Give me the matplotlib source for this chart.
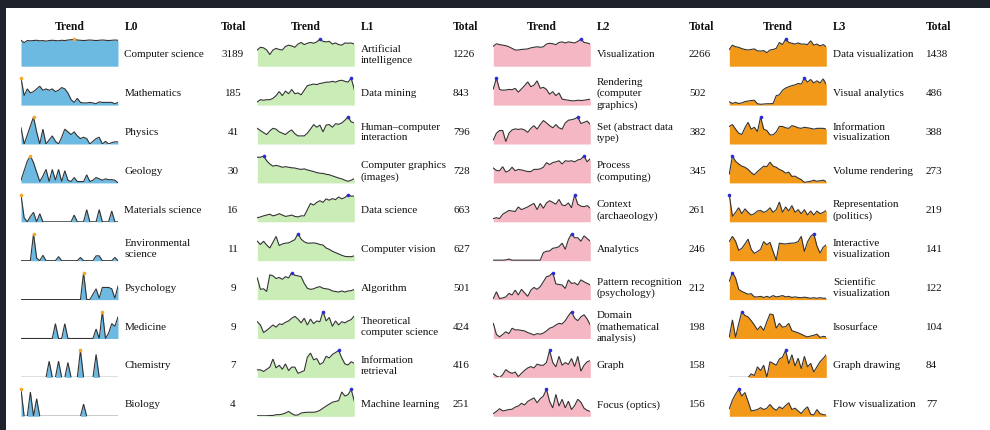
import matplotlib
matplotlib.use("Agg")
import matplotlib.pyplot as plt
import numpy as np
from matplotlib.patches import Rectangle

# ---- data: yearly paper counts per topic, as percent of the topic's peak year ----
L0_LABELS = ["Computer science", "Mathematics", "Physics", "Geology", "Materials science",
             "Environmental\nscience", "Psychology", "Medicine", "Chemistry", "Biology"]
L0_TOTALS = [3189, 185, 41, 30, 16, 11, 9, 9, 7, 4]
L0_TRENDS = [
    [96, 87, 95, 94, 95, 96, 94, 95, 93, 95, 96, 95, 94, 96, 95, 97, 98, 100, 97, 96, 95, 96, 97, 96, 95, 96, 97, 96, 95, 96, 97, 96],
    [100, 35, 60, 45, 50, 60, 70, 55, 60, 55, 60, 50, 55, 65, 60, 45, 20, 10, 25, 10, 8, 8, 10, 8, 5, 12, 10, 10, 10, 10, 5, 10],
    [60, 0, 33, 67, 100, 45, 0, 55, 0, 15, 30, 10, 0, 25, 55, 45, 35, 45, 30, 20, 25, 20, 0, 10, 20, 25, 0, 10, 0, 5, 8, 8],
    [10, 45, 80, 100, 75, 40, 5, 25, 50, 5, 50, 10, 50, 5, 45, 10, 5, 20, 5, 5, 5, 30, 5, 10, 20, 15, 10, 15, 12, 12, 10, 0],
    [100, 15, 0, 20, 35, 0, 30, 0, 0, 0, 0, 0, 0, 0, 0, 0, 0, 25, 0, 0, 0, 45, 0, 0, 0, 45, 0, 0, 0, 40, 0, 0],
    [0, 0, 0, 0, 100, 10, 0, 20, 0, 0, 0, 0, 15, 0, 0, 0, 0, 0, 0, 12, 0, 0, 0, 0, 18, 18, 0, 0, 0, 0, 12, 0],
    [0, 0, 0, 0, 0, 0, 0, 0, 0, 0, 0, 0, 0, 0, 0, 0, 0, 0, 0, 0, 100, 0, 0, 20, 40, 5, 45, 45, 45, 40, 5, 50],
    [0, 0, 0, 0, 0, 0, 0, 0, 0, 0, 0, 55, 0, 0, 55, 0, 0, 0, 0, 0, 0, 0, 0, 0, 35, 0, 100, 0, 20, 55, 45, 80],
    [0, 0, 0, 0, 0, 0, 0, 0, 0, 60, 0, 0, 60, 0, 0, 55, 0, 0, 0, 100, 0, 0, 0, 0, 85, 0, 0, 0, 0, 0, 0, 0],
    [100, 0, 0, 90, 0, 65, 0, 0, 0, 0, 0, 0, 0, 0, 0, 0, 0, 0, 0, 0, 45, 0, 0, 0, 0, 0, 0, 0, 0, 0, 0, 0],
]

L1_LABELS = ["Artificial\nintelligence", "Data mining", "Human\u2013computer\ninteraction",
             "Computer graphics\n(images)", "Data science", "Computer vision", "Algorithm",
             "Theoretical\ncomputer science", "Information\nretrieval", "Machine learning"]
L1_TOTALS = [1226, 843, 796, 728, 663, 627, 501, 424, 416, 251]
L1_TRENDS = [
    [60, 70, 68, 60, 43, 60, 66, 62, 60, 73, 78, 75, 70, 82, 88, 80, 85, 88, 85, 90, 100, 92, 90, 92, 82, 86, 80, 78, 86, 85, 86, 82],
    [12, 20, 18, 20, 20, 25, 35, 50, 35, 52, 42, 58, 42, 45, 38, 55, 72, 75, 78, 76, 80, 82, 85, 85, 88, 85, 90, 92, 88, 85, 100, 58],
    [58, 50, 42, 35, 48, 58, 55, 45, 40, 35, 45, 52, 38, 30, 30, 30, 40, 55, 72, 62, 70, 45, 70, 72, 62, 75, 73, 78, 88, 100, 82, 78],
    [95, 95, 100, 82, 70, 62, 65, 62, 58, 60, 58, 56, 55, 52, 50, 52, 48, 45, 42, 38, 36, 35, 32, 30, 26, 22, 18, 15, 10, 6, 10, 16],
    [15, 18, 22, 25, 28, 22, 25, 30, 25, 20, 22, 25, 20, 18, 22, 22, 45, 68, 62, 72, 78, 72, 85, 80, 86, 82, 92, 85, 90, 100, 95, 95],
    [72, 60, 72, 58, 47, 68, 90, 56, 62, 65, 66, 72, 78, 100, 80, 70, 65, 65, 66, 64, 60, 58, 47, 42, 35, 30, 25, 20, 16, 15, 15, 18],
    [80, 38, 40, 30, 92, 88, 78, 82, 75, 85, 80, 100, 90, 88, 85, 60, 42, 38, 40, 45, 48, 42, 40, 38, 32, 30, 28, 32, 28, 32, 33, 38],
    [62, 50, 22, 30, 40, 50, 42, 54, 52, 60, 65, 75, 82, 72, 58, 75, 50, 72, 55, 65, 62, 100, 65, 78, 45, 65, 50, 62, 58, 65, 70, 84],
    [28, 28, 22, 30, 38, 68, 35, 45, 30, 50, 25, 38, 38, 15, 20, 25, 75, 90, 65, 70, 48, 55, 78, 72, 85, 92, 100, 72, 50, 46, 58, 52],
    [2, 2, 2, 2, 3, 3, 6, 6, 8, 12, 18, 10, 4, 5, 12, 14, 15, 15, 15, 17, 22, 30, 38, 45, 52, 55, 58, 90, 75, 80, 100, 56],
]

L2_LABELS = ["Visualization", "Rendering\n(computer\ngraphics)", "Set (abstract data\ntype)",
             "Process\n(computing)", "Context\n(archaeology)", "Analytics",
             "Pattern recognition\n(psychology)", "Domain\n(mathematical\nanalysis)", "Graph",
             "Focus (optics)"]
L2_TOTALS = [2266, 502, 382, 345, 261, 246, 212, 198, 158, 156]
L2_TRENDS = [
    [74, 83, 80, 78, 76, 72, 66, 60, 60, 62, 63, 64, 68, 70, 72, 70, 72, 82, 85, 83, 80, 88, 90, 86, 90, 88, 86, 92, 100, 88, 86, 82],
    [60, 100, 58, 55, 56, 58, 57, 62, 48, 60, 72, 86, 68, 74, 90, 62, 66, 58, 40, 50, 35, 45, 22, 20, 18, 16, 16, 18, 17, 18, 20, 22],
    [15, 40, 50, 50, 9, 40, 52, 56, 54, 56, 52, 43, 58, 68, 55, 72, 87, 78, 68, 60, 72, 60, 55, 78, 88, 90, 93, 100, 76, 80, 85, 72],
    [55, 46, 45, 60, 40, 45, 58, 45, 50, 48, 45, 42, 42, 50, 50, 52, 58, 75, 68, 75, 78, 82, 70, 82, 80, 82, 78, 85, 88, 100, 78, 90],
    [12, 15, 12, 28, 35, 42, 40, 38, 55, 45, 50, 55, 62, 68, 45, 68, 50, 70, 78, 72, 65, 83, 62, 60, 70, 52, 100, 65, 58, 56, 60, 50],
    [2, 2, 2, 2, 3, 6, 2, 2, 2, 2, 2, 2, 2, 2, 2, 2, 30, 35, 36, 46, 48, 52, 65, 42, 78, 100, 85, 85, 72, 92, 82, 72],
    [4, 29, 4, 6, 10, 23, 17, 35, 17, 38, 25, 12, 35, 45, 38, 48, 66, 85, 88, 100, 58, 56, 54, 41, 73, 60, 62, 54, 73, 66, 60, 54],
    [56, 15, 6, 15, 25, 18, 38, 32, 32, 30, 28, 22, 18, 13, 18, 16, 20, 28, 38, 42, 50, 56, 54, 66, 84, 100, 75, 66, 80, 88, 72, 50],
    [13, 5, 0, 10, 29, 20, 15, 20, 3, 15, 26, 35, 40, 35, 49, 45, 45, 55, 100, 55, 39, 78, 45, 55, 48, 70, 40, 78, 23, 45, 58, 62],
    [10, 18, 28, 20, 22, 25, 26, 34, 38, 48, 42, 55, 62, 68, 50, 65, 75, 100, 55, 31, 81, 38, 63, 31, 56, 25, 40, 63, 52, 30, 22, 18],
]

L3_LABELS = ["Data visualization", "Visual analytics", "Information\nvisualization",
             "Volume rendering", "Representation\n(politics)", "Interactive\nvisualization",
             "Scientific\nvisualization", "Isosurface", "Graph drawing", "Flow visualization"]
L3_TOTALS = [1438, 486, 388, 273, 219, 141, 122, 104, 84, 77]
L3_TRENDS = [
    [62, 78, 72, 70, 65, 62, 60, 62, 64, 57, 56, 58, 50, 60, 62, 66, 88, 80, 100, 88, 85, 82, 86, 82, 82, 80, 94, 78, 82, 75, 80, 72],
    [12, 6, 10, 6, 8, 13, 15, 17, 18, 5, 3, 4, 5, 5, 6, 35, 38, 55, 63, 68, 72, 75, 80, 78, 100, 85, 95, 82, 90, 82, 97, 76],
    [65, 72, 55, 40, 35, 60, 80, 55, 62, 46, 100, 55, 50, 34, 34, 45, 65, 65, 60, 58, 68, 65, 60, 58, 62, 60, 58, 55, 58, 58, 58, 55],
    [33, 100, 80, 70, 62, 58, 50, 38, 30, 42, 52, 62, 60, 77, 62, 58, 50, 45, 36, 40, 24, 25, 18, 12, 2, 4, 6, 10, 6, 8, 10, 5],
    [100, 20, 35, 52, 30, 48, 35, 25, 30, 40, 42, 35, 40, 52, 35, 45, 73, 35, 55, 40, 60, 35, 45, 30, 45, 25, 40, 25, 40, 30, 35, 42],
    [71, 90, 72, 38, 46, 62, 80, 42, 27, 34, 42, 71, 59, 68, 34, 2, 65, 63, 62, 64, 65, 66, 71, 90, 34, 70, 90, 100, 55, 28, 50, 59],
    [68, 100, 80, 38, 30, 25, 20, 22, 10, 10, 12, 8, 12, 8, 15, 10, 12, 15, 10, 12, 8, 10, 8, 7, 9, 7, 5, 7, 5, 7, 5, 5],
    [6, 69, 4, 55, 100, 85, 80, 66, 50, 32, 46, 30, 62, 91, 88, 38, 56, 42, 44, 56, 29, 25, 21, 16, 10, 6, 9, 12, 16, 4, 8, 6],
    [0, 0, 0, 0, 0, 0, 0, 13, 7, 39, 25, 45, 0, 58, 52, 45, 68, 75, 100, 50, 84, 42, 71, 32, 78, 39, 52, 20, 39, 58, 70, 84],
    [28, 60, 82, 100, 75, 88, 55, 20, 22, 25, 32, 25, 30, 44, 30, 22, 35, 28, 40, 50, 25, 30, 20, 10, 25, 35, 8, 5, 25, 10, 6, 5],
]

LEVEL_NAMES = ["L0", "L1", "L2", "L3"]
FILL_COLORS = ["#6cb9e2", "#caedb8", "#f5b7c3", "#f3991a"]
PEAK_COLORS = ["#f5a623", "#2b2bd6", "#2b2bd6", "#2b2bd6"]

# ---- layout (pixel units) ----
W, H = 990, 430
SPARK_X0 = [21, 257.3, 493.3, 729.3]
SPARK_W, SPARK_H = 97, 27
ROW_TOP0, ROW_STEP = 39.2, 38.9
LABEL_DX = 103.5
TOTAL_HEAD_X = [221, 453, 689, 926]
# totals: first column centred under its header, the others left-aligned
TOTAL_X = [233, 453, 689, 926]
TOTAL_HA = ["center", "left", "left", "left"]
HEADER_Y = 27
FONT = ["Liberation Serif", "DejaVu Serif"]
FS = 8.0
FS_HEAD = 8.4

fig = plt.figure(figsize=(W / 100, H / 100), dpi=100)
fig.patch.set_facecolor("#1e222b")
fig.add_artist(Rectangle((6 / W, 0), 1, 1 - 8 / H, transform=fig.transFigure,
                         facecolor="white", edgecolor="none", zorder=0))


def fx(x):
    return x / W


def fy(y):
    return 1 - y / H


groups = [
    (L0_LABELS, L0_TOTALS, L0_TRENDS),
    (L1_LABELS, L1_TOTALS, L1_TRENDS),
    (L2_LABELS, L2_TOTALS, L2_TRENDS),
    (L3_LABELS, L3_TOTALS, L3_TRENDS),
]

for g, (labels, totals, trends) in enumerate(groups):
    x0 = SPARK_X0[g]
    lx = x0 + LABEL_DX
    # column headers
    fig.text(fx(x0 + SPARK_W / 2), fy(HEADER_Y), "Trend", ha="center", va="center",
             family=FONT, fontsize=FS_HEAD, fontweight="bold", color="#111")
    fig.text(fx(lx), fy(HEADER_Y), LEVEL_NAMES[g], ha="left", va="center",
             family=FONT, fontsize=FS_HEAD, fontweight="bold", color="#111")
    fig.text(fx(TOTAL_HEAD_X[g]), fy(HEADER_Y), "Total", ha="left", va="center",
             family=FONT, fontsize=FS_HEAD, fontweight="bold", color="#111")

    for r, (lab, tot, vals) in enumerate(zip(labels, totals, trends)):
        top = ROW_TOP0 + r * ROW_STEP
        yc = top + SPARK_H / 2 + 2
        ax = fig.add_axes([fx(x0), fy(top + SPARK_H), SPARK_W / W, SPARK_H / H])
        v = np.asarray(vals, dtype=float)
        xs = np.arange(len(v))
        ax.fill_between(xs, 0, v, color=FILL_COLORS[g], lw=0)
        ax.plot(xs, v, color="#333333", lw=0.8, solid_joinstyle="miter")
        k = int(np.argmax(v))
        ax.plot([xs[k]], [v[k]], "o", ms=2.6, color=PEAK_COLORS[g], mec="none", clip_on=False, zorder=5)
        ax.set_xlim(0, len(v) - 1)
        ax.set_ylim(0, v.max())
        ax.axis("off")

        fig.text(fx(lx), fy(yc), lab, ha="left", va="center", family=FONT,
                 fontsize=FS, color="#111", linespacing=1.25)
        fig.text(fx(TOTAL_X[g]), fy(yc), str(tot), ha=TOTAL_HA[g], va="center", family=FONT,
                 fontsize=FS, color="#111")

fig.savefig("out.png", dpi=100, facecolor=fig.get_facecolor())
